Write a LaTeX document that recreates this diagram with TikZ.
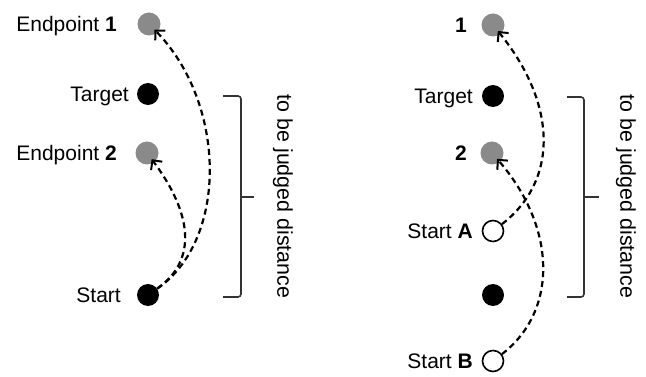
\documentclass[tikz,border=0pt]{standalone}
\usepackage{fontspec}
\setmainfont{Liberation Sans}
\usetikzlibrary{arrows.meta}
\definecolor{dotgray}{HTML}{8A8A8A}
\definecolor{bracegray}{HTML}{333333}
\tikzset{
  lbl/.style={font=\fontsize{21}{24}\selectfont, anchor=base east, inner sep=0pt},
  vlbl/.style={font=\fontsize{21.4}{24}\selectfont, rotate=-90, inner sep=0pt},
  blackdot/.style={circle, fill=black, minimum size=22pt, inner sep=0pt},
  graydot/.style={circle, fill=dotgray, minimum size=23pt, inner sep=0pt},
  opendot/.style={circle, draw=black, fill=white, line width=1.6pt, minimum size=21pt, inner sep=0pt},
  path/.style={dashed, dash pattern=on 6pt off 4pt, line width=2.2pt,
    -{Straight Barb[length=7pt,width=14pt,line width=2pt]}, shorten >=-4pt},
  bracket/.style={draw=bracegray, line width=1.6pt, rounded corners=3pt}
}
\begin{document}
\begin{tikzpicture}[x=1pt, y=-1pt]
\useasboundingbox (0,0) rectangle (646,377);

% ---- left panel ----
\node[graydot]  (e1) at (149,24)  {};
\node[blackdot] (t)  at (148,94)  {};
\node[graydot]  (e2) at (147,153) {};
\node[blackdot] (s)  at (148,295) {};

\node[lbl] (le1) at (117,31.5)  {Endpoint \textbf{1}};
\node[lbl] (lt)  at (129,101.5) {Target};
\node[lbl] (le2) at (117,160.5) {Endpoint \textbf{2}};
\node[lbl] (ls)  at (121,302.5) {Start};

\draw[path] (s) .. controls +(80,-55) and +(78,80) .. (e1);
\draw[path] (s) .. controls +(50,-35) and +(45,60) .. (e2);

\draw[bracket] (223,96) -- (241,96) -- (241,297) -- (223,297);
\draw[bracket, rounded corners=0pt] (241,197) -- (254,197);
\node[vlbl] (d1) at (283,196.5) {to be judged distance};

% ---- right panel ----
\node[graydot]  (r1) at (493,25)  {};
\node[blackdot] (rt) at (493,96)  {};
\node[graydot]  (r2) at (492,153) {};
\node[opendot]  (a)  at (493,231) {};
\node[blackdot] (rs) at (493,295) {};
\node[opendot]  (b)  at (493,361) {};

\node[lbl] (l1)  at (467,32.5)  {\textbf{1}};
\node[lbl] (lrt) at (473,103.5) {Target};
\node[lbl] (l2)  at (467,160.5) {\textbf{2}};
\node[lbl] (la)  at (473,238.5) {Start \textbf{A}};
\node[lbl] (lb)  at (473,368.5) {Start \textbf{B}};

\draw[path] (a) .. controls +(65,-50) and +(65,80) .. (r1);
\draw[path] (b) .. controls +(65,-50) and +(65,75) .. (r2);

\draw[bracket] (567,97) -- (584,97) -- (584,297) -- (567,297);
\draw[bracket, rounded corners=0pt] (584,197) -- (599,197);
\node[vlbl] (d2) at (626,196.5) {to be judged distance};
\end{tikzpicture}
\end{document}
